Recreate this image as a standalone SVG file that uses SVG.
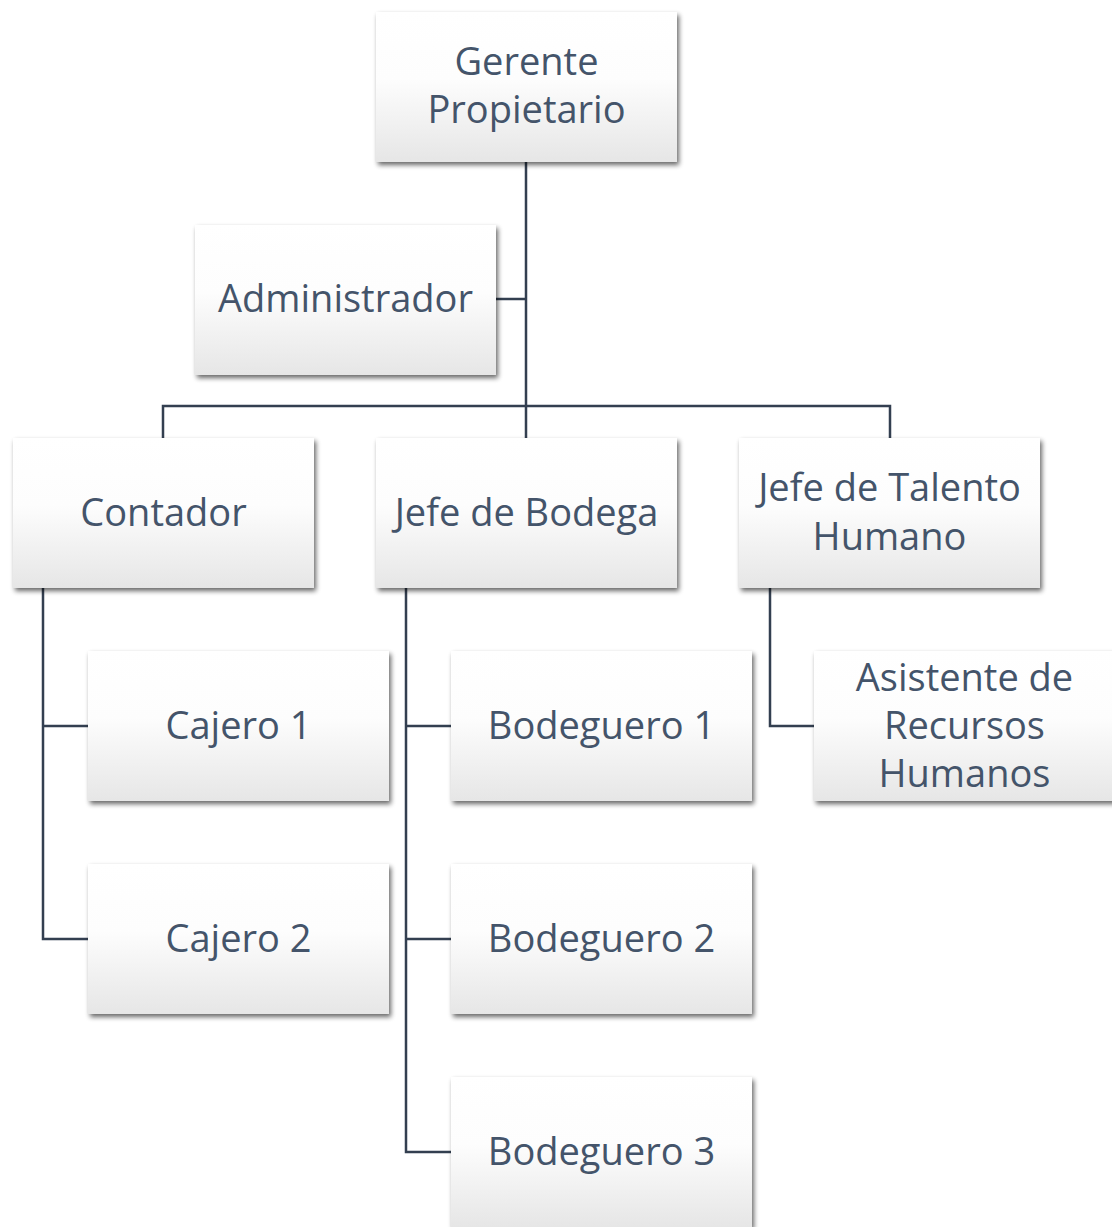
<svg xmlns="http://www.w3.org/2000/svg" width="1112" height="1227" viewBox="0 0 1112 1227">
<defs>
<linearGradient id="g" x1="0" y1="0" x2="0" y2="1">
<stop offset="0" stop-color="#ffffff"/>
<stop offset="0.45" stop-color="#fdfdfd"/>
<stop offset="1" stop-color="#e6e6e6"/>
</linearGradient>
<filter id="sh" x="-10%" y="-10%" width="125%" height="130%">
<feGaussianBlur in="SourceAlpha" stdDeviation="2.5"/>
<feOffset dx="2" dy="3" result="b"/>
<feComponentTransfer><feFuncA type="linear" slope="0.6"/></feComponentTransfer>
<feMerge><feMergeNode/><feMergeNode in="SourceGraphic"/></feMerge>
</filter>
</defs>
<style>
.box{fill:url(#g);filter:url(#sh)}
.t{font-family:"Open Sans","Noto Sans",sans-serif;font-size:38px;fill:#44546a;text-anchor:middle}
.c{fill:none;stroke:#333f50;stroke-width:2.5}
</style>
<rect width="1112" height="1227" fill="#ffffff"/>
<g id="connectors">
<path class="c" d="M526,162 V438"/>
<path class="c" d="M496,299 H526"/>
<path class="c" d="M163,438 V406 H890 V438"/>
<path class="c" d="M43,587 V939 H88 M43,726 H88"/>
<path class="c" d="M406,587 V1152 H451 M406,726 H451 M406,939 H451"/>
<path class="c" d="M770,587 V726 H814"/>
</g>
<g id="gerente"><rect class="box" x="376" y="12" width="301" height="150"/><text class="t" x="526.5" y="75">Gerente</text><text class="t" x="526.5" y="123">Propietario</text></g>
<g id="administrador"><rect class="box" x="195" y="225" width="301" height="150"/><text class="t" x="345.5" y="312">Administrador</text></g>
<g id="contador"><rect class="box" x="13" y="438" width="301" height="150"/><text class="t" x="163.5" y="526">Contador</text></g>
<g id="jefe-bodega"><rect class="box" x="376" y="438" width="301" height="150"/><text class="t" x="526.5" y="526">Jefe de Bodega</text></g>
<g id="jefe-talento"><rect class="box" x="739" y="438" width="301" height="150"/><text class="t" x="889.5" y="501">Jefe de Talento</text><text class="t" x="889.5" y="550">Humano</text></g>
<g id="cajero1"><rect class="box" x="88" y="651" width="301" height="150"/><text class="t" x="238.5" y="739">Cajero 1</text></g>
<g id="cajero2"><rect class="box" x="88" y="864" width="301" height="150"/><text class="t" x="238.5" y="952">Cajero 2</text></g>
<g id="bodeguero1"><rect class="box" x="451" y="651" width="301" height="150"/><text class="t" x="601.5" y="739">Bodeguero 1</text></g>
<g id="bodeguero2"><rect class="box" x="451" y="864" width="301" height="150"/><text class="t" x="601.5" y="952">Bodeguero 2</text></g>
<g id="bodeguero3"><rect class="box" x="451" y="1077" width="301" height="150"/><text class="t" x="601.5" y="1165">Bodeguero 3</text></g>
<g id="asistente"><rect class="box" x="814" y="651" width="301" height="150"/><text class="t" x="964.5" y="691">Asistente de</text><text class="t" x="964.5" y="739">Recursos</text><text class="t" x="964.5" y="787">Humanos</text></g>
</svg>
